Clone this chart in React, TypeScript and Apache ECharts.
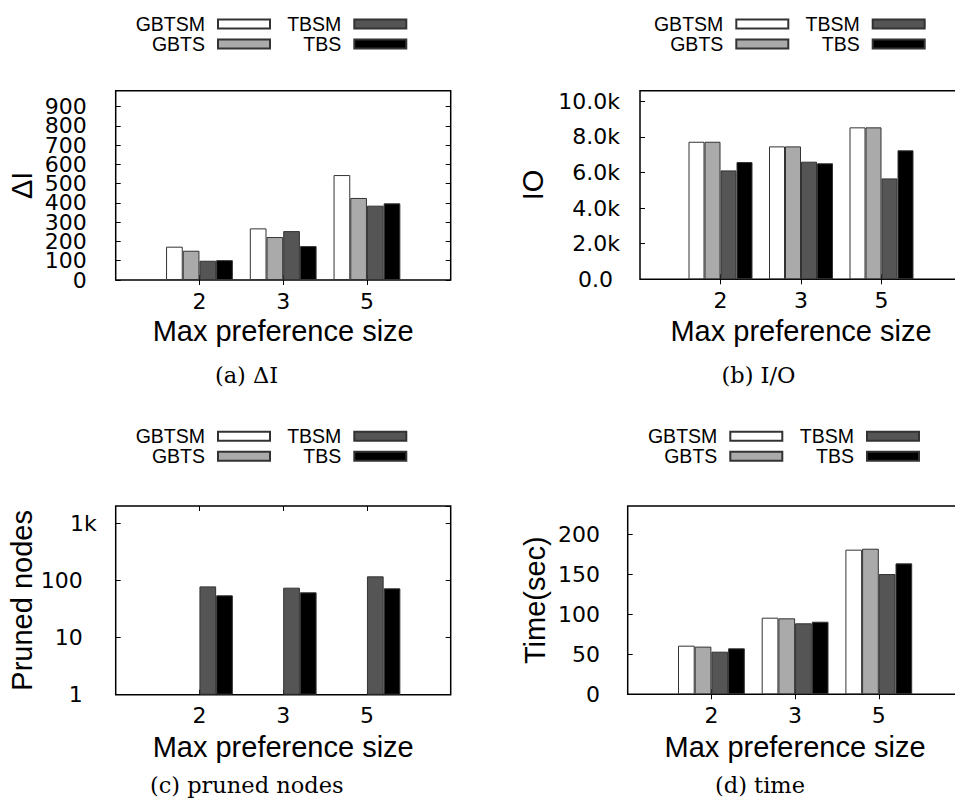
import React, { useEffect, useRef } from 'react';
import * as echarts from 'echarts';

// ---------- data ----------
const categories = ['2', '3', '5'];
const seriesNames = ['GBTSM', 'GBTS', 'TBSM', 'TBS'];

const deltaI_GBTSM = [173, 268, 545];
const deltaI_GBTS = [152, 223, 426];
const deltaI_TBSM = [100, 254, 386];
const deltaI_TBS = [103, 176, 398];

const io_GBTSM = [7730, 7470, 8540];
const io_GBTS = [7730, 7470, 8540];
const io_TBSM = [6120, 6610, 5670];
const io_TBS = [6590, 6520, 7250];

const pruned_GBTSM: (number | null)[] = [null, null, null];
const pruned_GBTS: (number | null)[] = [null, null, null];
const pruned_TBSM = [78.5, 74.5, 117.6];
const pruned_TBS = [54.8, 61.8, 72.6];

const time_GBTSM = [60.7, 95.6, 180.5];
const time_GBTS = [59.5, 94.8, 181.7];
const time_TBSM = [53.2, 88.6, 150.1];
const time_TBS = [57.4, 90.6, 163.4];

const yTicksDeltaI = { min: 0, max: 983, interval: 100 };
const yTicksIO = { min: 0, max: 10600, interval: 2000 };
const yTicksPruned = { min: 1, max: 2000 };
const yTicksTime = { min: 0, max: 235, interval: 50 };

// ---------- styles ----------
const seriesColors = ['#ffffff', '#aaaaaa', '#555555', '#000000'];
const SANS = '"Liberation Sans", Arial, Helvetica, sans-serif';
const TICKF = '"DejaVu Sans", "Liberation Sans", sans-serif';
const SERIF = '"DejaVu Serif", "Liberation Serif", serif';

const paddedCats = [''].concat(categories).concat([' ']);
const pad = (arr: (number | null)[]) => [null as number | null].concat(arr).concat([null]);

type Panel = {
  grid: { left: number; top: number; width: number; height: number };
  yName: string;
  yNameGap: number;
  xNameGap: number;
  labelMargin: number;
  splitLabels?: boolean;
  log?: boolean;
  ticks: { min: number; max: number; interval?: number };
  fmt: (v: number) => string;
  barWidth: number;
  data: (number | null)[][];
  legendTop: number;
  legendRight: [number, number];
  caption: string;
  captionX: number;
  captionY: number;
};

const panels: Panel[] = [
  {
    grid: { left: 115.7, top: 90.7, width: 335, height: 189.3 },
    yName: 'ΔI', yNameGap: 79.5, xNameGap: 36, labelMargin: 29, splitLabels: true,
    ticks: yTicksDeltaI, fmt: (v) => String(v), barWidth: 16.7,
    data: [deltaI_GBTSM, deltaI_GBTS, deltaI_TBSM, deltaI_TBS],
    legendTop: 14, legendRight: [684, 547.7],
    caption: '(a) ΔI', captionX: 246.5, captionY: 375,
  },
  {
    grid: { left: 640, top: 90.7, width: 322, height: 188.6 },
    yName: 'IO', yNameGap: 92.3, xNameGap: 37, labelMargin: 20,
    ticks: yTicksIO,
    fmt: (v) => (v === 0 ? '0.0\u00a0' : (v / 1000).toFixed(1) + 'k'),
    barWidth: 16,
    data: [io_GBTSM, io_GBTS, io_TBSM, io_TBS],
    legendTop: 14, legendRight: [165.7, 29.3],
    caption: '(b) I/O', captionX: 758.5, captionY: 375,
  },
  {
    grid: { left: 115.7, top: 506, width: 335, height: 188.7 },
    yName: 'Pruned nodes', yNameGap: 78.9, xNameGap: 37.5, labelMargin: 19,
    log: true, ticks: yTicksPruned,
    fmt: (v) => {
      const r = Math.round(v);
      return r >= 1000 ? r / 1000 + 'k' : r + '\u2007';
    },
    barWidth: 16.7,
    data: [pruned_GBTSM, pruned_GBTS, pruned_TBSM, pruned_TBS],
    legendTop: 426.3, legendRight: [684, 547.7],
    caption: '(c) pruned nodes', captionX: 246.7, captionY: 785,
  },
  {
    grid: { left: 627.7, top: 506, width: 334.8, height: 188.3 },
    yName: 'Time(sec)', yNameGap: 78.2, xNameGap: 38.5, labelMargin: 27.7,
    ticks: yTicksTime, fmt: (v) => String(v), barWidth: 16.7,
    data: [time_GBTSM, time_GBTS, time_TBSM, time_TBS],
    legendTop: 426.3, legendRight: [171.7, 35],
    caption: '(d) time', captionX: 760, captionY: 785,
  },
];

function buildOption() {
  const grid: any[] = [];
  const xAxis: any[] = [];
  const yAxis: any[] = [];
  const series: any[] = [];
  const legend: any[] = [];
  const graphic: any[] = [];

  const tickStyle = { show: true, inside: true, length: 5, lineStyle: { color: '#000', width: 1 } };

  panels.forEach((p, i) => {
    grid.push({
      ...p.grid,
      show: true,
      borderColor: '#000',
      borderWidth: 1.5,
      backgroundColor: 'transparent',
      containLabel: false,
      outerBoundsMode: 'none',
    });
    const xBase = {
      gridIndex: i,
      type: 'category',
      data: paddedCats,
      boundaryGap: false,
      axisLine: { show: false },
      splitLine: { show: false },
      axisTick: { ...tickStyle, interval: (_idx: number, val: string) => val.trim() !== '' },
    };
    const xIndex = xAxis.length;
    xAxis.push({
      ...xBase,
      position: 'bottom',
      axisLabel: {
        interval: 0,
        margin: 10,
        color: '#000',
        fontFamily: TICKF,
        fontSize: 22,
      },
      name: 'Max preference size',
      nameLocation: 'middle',
      nameGap: p.xNameGap,
      nameTextStyle: { color: '#000', fontFamily: SANS, fontSize: 29 },
    });
    xAxis.push({ ...xBase, position: 'top', axisLabel: { show: false } });

    const yBase: any = {
      gridIndex: i,
      type: p.log ? 'log' : 'value',
      min: p.ticks.min,
      max: p.ticks.max,
      axisLine: { show: false },
      splitLine: { show: false },
      axisTick: tickStyle,
    };
    if (p.log) yBase.logBase = 10;
    if (p.ticks.interval !== undefined) yBase.interval = p.ticks.interval;
    const labelBase = {
      showMinLabel: true,
      showMaxLabel: false,
      hideOverlap: false,
      margin: p.labelMargin,
      color: '#000',
      fontFamily: TICKF,
      fontSize: 22,
    };
    const yIndex = yAxis.length;
    const step = p.ticks.interval || 1;
    yAxis.push({
      ...yBase,
      position: 'left',
      axisLabel: {
        ...labelBase,
        formatter: p.splitLabels
          ? (v: number) => (Math.round(v / step) % 2 === 1 ? p.fmt(v) : '')
          : p.fmt,
      },
      name: p.yName,
      nameLocation: 'middle',
      nameGap: p.yNameGap,
      nameTextStyle: { color: '#000', fontFamily: SANS, fontSize: 29 },
    });
    if (p.splitLabels) {
      yAxis.push({
        ...yBase,
        position: 'left',
        axisTick: { show: false },
        axisLabel: {
          ...labelBase,
          formatter: (v: number) => (Math.round(v / step) % 2 === 0 ? p.fmt(v) : ''),
        },
      });
    }
    yAxis.push({ ...yBase, position: 'right', axisLabel: { show: false } });

    seriesNames.forEach((name, k) => {
      series.push({
        type: 'bar',
        name,
        xAxisIndex: xIndex,
        yAxisIndex: yIndex,
        data: pad(p.data[k]),
        barWidth: p.barWidth,
        barGap: '0%',
        itemStyle: { color: seriesColors[k], borderColor: '#333', borderWidth: 1 },
        emphasis: { disabled: true },
      });
    });

    const legendBase = {
      orient: 'vertical',
      align: 'right',
      icon: 'rect',
      itemWidth: 52,
      itemHeight: 9,
      itemGap: 0,
      padding: 0,
      top: p.legendTop,
      selectedMode: false,
      textStyle: {
        color: '#000',
        fontFamily: SANS,
        fontSize: 19.5,
        lineHeight: 20,
        padding: [0, 8, 0, 0],
      },
    };
    legend.push({ ...legendBase, right: p.legendRight[0], data: [seriesNames[0], seriesNames[1]] });
    legend.push({ ...legendBase, right: p.legendRight[1], data: [seriesNames[2], seriesNames[3]] });

    graphic.push({
      type: 'text',
      x: p.captionX,
      y: p.captionY,
      style: {
        text: p.caption,
        fill: '#000',
        fontFamily: SERIF,
        fontSize: 22.5,
        align: 'center',
        verticalAlign: 'middle',
      },
    });
  });

  return {
    animation: false,
    backgroundColor: '#fff',
    grid,
    xAxis,
    yAxis,
    series,
    legend,
    graphic,
  };
}

export default function App() {
  const ref = useRef<HTMLDivElement>(null);
  useEffect(() => {
    if (!ref.current) return;
    const chart = echarts.init(ref.current, undefined, { renderer: 'svg' });
    chart.setOption(buildOption() as any);
    return () => chart.dispose();
  }, []);
  return (
    <div
      ref={ref}
      style={{ position: 'absolute', left: 0, top: 0, width: 955, height: 806, background: '#fff', overflow: 'hidden' }}
    />
  );
}
